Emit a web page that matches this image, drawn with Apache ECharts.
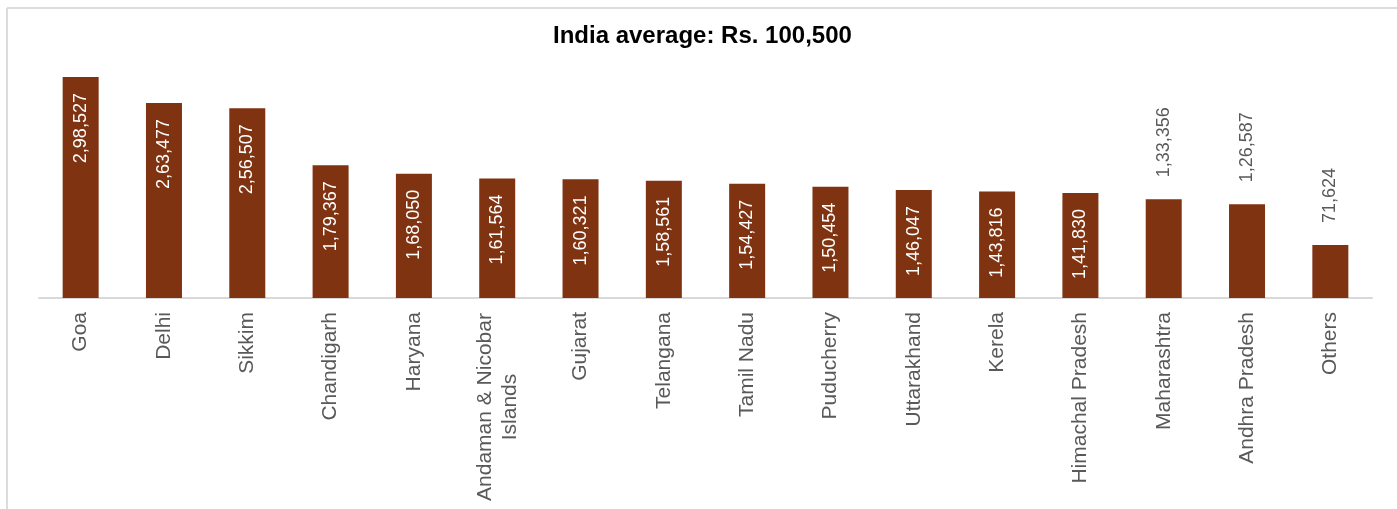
<!DOCTYPE html>
<html>
<head>
<meta charset="utf-8">
<script src="https://cdn.jsdelivr.net/npm/echarts@6/dist/echarts.min.js"></script>
<style>
  html, body { margin: 0; padding: 0; background: #fff; }
  #chart { width: 1397px; height: 509px; }
</style>
</head>
<body>
<div id="chart"></div>
<script>
'use strict';

var states = ['Goa', 'Delhi', 'Sikkim', 'Chandigarh', 'Haryana', 'Andaman & Nicobar\nIslands',
    'Gujarat', 'Telangana', 'Tamil Nadu', 'Puducherry', 'Uttarakhand', 'Kerela',
    'Himachal Pradesh', 'Maharashtra', 'Andhra Pradesh', 'Others'];
var income = [298527, 263477, 256507, 179367, 168050, 161564, 160321, 158561,
    154427, 150454, 146047, 143816, 141830, 133356, 126587, 71624];
// these bars carry their value above the bar instead of inside
var labelAbove = ['Maharashtra', 'Andhra Pradesh', 'Others'];
var titleText = 'India average: Rs. 100,500';

var FONT = '"Liberation Sans", Arial, sans-serif';
var BAR = '#7f3311';
var GREY = '#595959';

// indian grouping: 2,98,527
function inr(v) {
    var s = String(Math.round(v));
    if (s.length <= 3) return s;
    var last = s.slice(-3);
    var rest = s.slice(0, -3);
    rest = rest.replace(/\B(?=(\d{2})+(?!\d))/g, ',');
    return rest + ',' + last;
}

var data = [];
for (var i = 0; i < income.length; i ++) {
    var item = { value: income[i] };
    if (labelAbove.indexOf(states[i]) >= 0) {
        item.label = {
            position: 'top',
            distance: 22,
            color: GREY,
            align: 'left',
            verticalAlign: 'middle'
        };
    }
    data.push(item);
}

var chart = echarts.init(document.getElementById('chart'));
chart.setOption({
    animation: false,
    textStyle: { fontFamily: FONT },
    title: {
        text: titleText,
        left: 548,
        top: 19,
        textStyle: { fontFamily: FONT, fontSize: 24, fontWeight: 'bold', color: '#000' }
    },
    graphic: [
        { type: 'line', shape: { x1: 7, y1: 8, x2: 1397, y2: 8 }, style: { stroke: '#dcdcdc', lineWidth: 2 } },
        { type: 'line', shape: { x1: 7, y1: 8, x2: 7, y2: 509 }, style: { stroke: '#dcdcdc', lineWidth: 2 } }
    ],
    grid: { left: 39, right: 25, top: 76, bottom: 211, containLabel: false },
    xAxis: {
        type: 'category',
        data: states,
        axisLine: { lineStyle: { color: '#d9d9d9', width: 2 } },
        axisTick: { show: false },
        axisLabel: {
            interval: 0,
            rotate: 90,
            margin: 14,
            color: GREY,
            fontSize: 21,
            fontFamily: FONT,
            formatter: function (v) {
                if (v.indexOf('\n') < 0) return v;
                return v.split('\n').map(function (p) { return '{c|' + p + '}'; }).join('\n');
            },
            rich: {
                c: { width: 190, align: 'center', fontSize: 21, color: GREY, fontFamily: FONT, lineHeight: 25 }
            }
        }
    },
    yAxis: {
        type: 'value',
        min: 0,
        max: 300000,
        show: false,
        splitLine: { show: false }
    },
    series: [{
        type: 'bar',
        data: data,
        barWidth: 36,
        itemStyle: { color: BAR },
        label: {
            show: true,
            position: 'insideTop',
            distance: 16,
            rotate: 90,
            align: 'right',
            verticalAlign: 'middle',
            color: '#fff',
            fontSize: 18,
            fontFamily: FONT,
            formatter: function (p) { return inr(p.value); }
        }
    }]
});
</script>
</body>
</html>
